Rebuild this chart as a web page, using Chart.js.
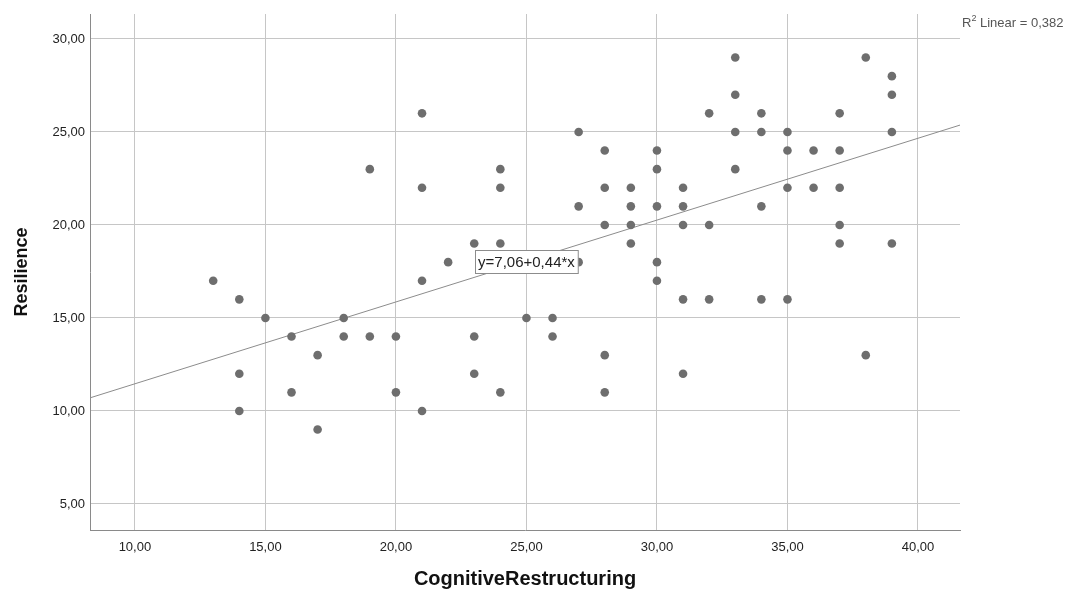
<!DOCTYPE html>
<html>
<head>
<meta charset="utf-8">
<style>
  body { margin: 0; background: #fff; }
  canvas { display: block; }
</style>
</head>
<body>
<canvas id="scatterChart" width="1072" height="592"></canvas>

<script src="https://cdn.jsdelivr.net/npm/chart.js"></script>
<script>
// CognitiveRestructuring (x) and Resilience (y), one entry per case
var cognitive = [13,14,14,14,15,16,16,17,17,18,18,19,19,20,20,21,21,21,21,22,23,23,23,24,24,24,24,25,26,26,27,27,27,28,28,28,28,28,29,29,29,29,30,30,30,30,30,31,31,31,31,31,32,32,32,33,33,33,33,34,34,34,34,35,35,35,35,36,36,37,37,37,37,37,38,38,39,39,39,39];
var resilience = [17,16,12,10,15,14,11,13,9,15,14,23,14,14,11,26,22,17,10,18,19,14,12,23,22,19,11,15,15,14,25,21,18,24,22,20,13,11,22,21,20,19,24,23,21,18,17,22,21,20,16,12,26,20,16,29,27,25,23,26,25,21,16,25,24,22,16,24,22,26,24,22,20,19,29,13,28,27,25,19];

// fit line as printed by SPSS
var intercept = 7.06;
var slope = 0.44;
var rSquared = '0,382';

var xTicks = [10, 15, 20, 25, 30, 35, 40];
var yTicks = [5, 10, 15, 20, 25, 30];
var xRange = [8.28, 41.61];
var yRange = [3.6, 31.34];

// where the equation label sits (data units)
var eqLabelPos = [25, 18.04];

function fmt(v) {
    return v.toFixed(2).replace('.', ',');
}

document.addEventListener('DOMContentLoaded', function () {
    var ctx = document.getElementById('scatterChart').getContext('2d');

    var points = cognitive.map(function (x, i) {
        return { x: x, y: resilience[i] };
    });
    var fitLine = xRange.map(function (x) {
        return { x: x, y: intercept + slope * x };
    });

    var overlay = {
        id: 'overlay',
        afterDatasetsDraw: function (chart) {
            var c = chart.ctx;
            var xs = chart.scales.x, ys = chart.scales.y;
            var label = 'y=' + fmt(intercept) + '+' + fmt(slope) + '*x';
            c.save();
            c.font = '15px "Liberation Sans", Arial, sans-serif';
            var w = c.measureText(label).width + 6;
            var h = 23;
            var cx = xs.getPixelForValue(eqLabelPos[0]);
            var cy = ys.getPixelForValue(eqLabelPos[1]);
            var bx = Math.round(cx - w / 2) + 0.5;
            var by = Math.round(cy - h / 2) + 0.5;
            c.fillStyle = '#ffffff';
            c.fillRect(bx, by, w, h);
            c.strokeStyle = '#8c8c8c';
            c.lineWidth = 1;
            c.strokeRect(bx, by, w, h);
            c.fillStyle = '#222';
            c.textAlign = 'center';
            c.textBaseline = 'middle';
            c.fillText(label, cx, cy + 1);

            // R2 note in the top right corner
            var rx = chart.chartArea.right + 2;
            var ry = 27;
            c.fillStyle = '#555';
            c.textAlign = 'left';
            c.textBaseline = 'alphabetic';
            c.font = '13px "Liberation Sans", Arial, sans-serif';
            c.fillText('R', rx, ry);
            var rw = c.measureText('R').width;
            c.font = '9px "Liberation Sans", Arial, sans-serif';
            c.fillText('2', rx + rw, ry - 6);
            var sw = c.measureText('2').width;
            c.font = '13px "Liberation Sans", Arial, sans-serif';
            c.fillText(' Linear = ' + rSquared, rx + rw + sw, ry);
            c.restore();
        }
    };

    var config = {
        type: 'scatter',
        data: {
            datasets: [{
                label: 'Resilience',
                data: points,
                backgroundColor: '#6e6e6e',
                borderWidth: 0,
                pointRadius: 4.3,
                pointHoverRadius: 4.3,
                order: 1
            }, {
                type: 'line',
                label: 'Linear',
                data: fitLine,
                borderColor: '#8c8c8c',
                borderWidth: 1,
                pointRadius: 0,
                fill: false,
                order: 2
            }]
        },
        options: {
            responsive: false,
            animation: false,
            layout: {
                padding: { left: 0, top: 14, right: 112, bottom: 0 }
            },
            plugins: {
                legend: { display: false },
                tooltip: { enabled: false }
            },
            scales: {
                x: {
                    type: 'linear',
                    min: xRange[0],
                    max: xRange[1],
                    afterBuildTicks: function (scale) {
                        scale.ticks = xTicks.map(function (v) { return { value: v }; });
                    },
                    afterFit: function (scale) { scale.height = 62; },
                    grid: { color: '#c6c6c6', drawTicks: false },
                    border: { display: true, color: '#8a8a8a', width: 1 },
                    ticks: {
                        padding: 10,
                        color: '#222',
                        font: { size: 13, family: '"Liberation Sans", Arial, sans-serif' },
                        callback: function (v) { return fmt(v); }
                    },
                    title: {
                        display: true,
                        text: 'CognitiveRestructuring',
                        color: '#111',
                        padding: { top: 0, bottom: 1 },
                        font: { size: 20, weight: 'bold', family: '"Liberation Sans", Arial, sans-serif' }
                    }
                },
                y: {
                    type: 'linear',
                    min: yRange[0],
                    max: yRange[1],
                    afterBuildTicks: function (scale) {
                        scale.ticks = yTicks.map(function (v) { return { value: v }; });
                    },
                    afterFit: function (scale) { scale.width = 90; },
                    grid: { color: '#c6c6c6', drawTicks: false },
                    border: { display: true, color: '#8a8a8a', width: 1 },
                    ticks: {
                        padding: 5,
                        color: '#222',
                        font: { size: 13, family: '"Liberation Sans", Arial, sans-serif' },
                        callback: function (v) { return fmt(v); }
                    },
                    title: {
                        display: true,
                        text: 'Resilience',
                        color: '#111',
                        padding: { top: 11, bottom: 0 },
                        font: { size: 18, weight: 'bold', family: '"Liberation Sans", Arial, sans-serif' }
                    }
                }
            }
        },
        plugins: [overlay]
    };

    new Chart(ctx, config);
});
</script>
</body>
</html>
